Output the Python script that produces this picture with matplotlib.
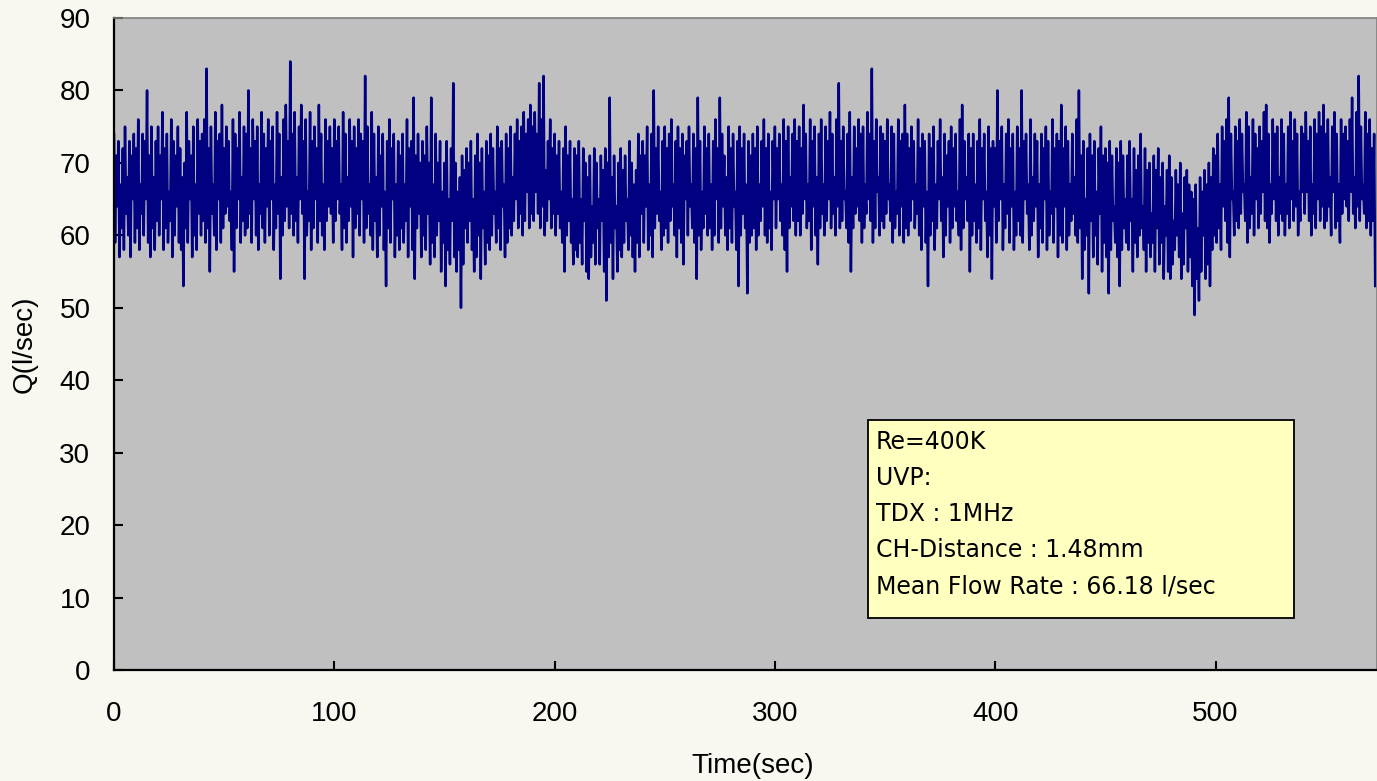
import numpy as np
import matplotlib.pyplot as plt
from matplotlib.patches import Rectangle

# flow rate Q (l/sec): one peak and one trough per second
q_hi_000 = [74, 71, 73, 67, 72, 75, 68, 73, 71, 74,
            72, 76, 67, 74, 73, 80, 71, 75, 68, 73,
            75, 71, 77, 72, 74, 66, 76, 73, 71, 75,
            72, 68, 70, 77, 73, 71, 75, 67, 76, 73,
            74, 76, 83, 72, 75, 67, 77, 73, 74, 78,
            72, 75, 73, 66, 76, 74, 72, 77, 68, 75,
            74, 80, 72, 76, 73, 75, 67, 77, 74, 72,
            76, 73, 75, 67, 77, 74, 68, 76, 78, 73,
            84, 74, 77, 68, 75, 78, 73, 76, 66, 77,
            73, 75, 72, 78, 74, 67, 76, 73, 75, 72]
q_hi_100 = [76, 73, 75, 67, 77, 74, 68, 76, 73, 75,
            72, 76, 74, 73, 82, 75, 67, 77, 74, 68,
            75, 71, 74, 66, 73, 76, 72, 74, 67, 73,
            71, 74, 67, 76, 72, 73, 79, 71, 74, 70,
            73, 71, 75, 70, 79, 67, 74, 70, 73, 66,
            70, 73, 65, 72, 81, 70, 66, 68, 71, 69,
            72, 70, 73, 65, 71, 74, 70, 72, 66, 73,
            71, 74, 72, 66, 75, 72, 73, 67, 74, 72,
            75, 68, 74, 76, 73, 75, 77, 74, 76, 78,
            75, 77, 74, 81, 76, 82, 69, 73, 76, 72]
q_hi_200 = [74, 71, 73, 66, 72, 75, 71, 73, 65, 72,
            71, 73, 65, 72, 70, 68, 71, 64, 72, 70,
            65, 71, 69, 72, 70, 79, 68, 71, 64, 70,
            72, 69, 71, 65, 73, 70, 67, 69, 74, 71,
            73, 71, 75, 67, 74, 80, 72, 75, 66, 73,
            75, 72, 74, 76, 67, 73, 75, 72, 74, 71,
            73, 75, 67, 74, 72, 79, 73, 66, 75, 72,
            74, 67, 73, 76, 72, 79, 74, 71, 68, 75,
            72, 74, 66, 73, 75, 72, 74, 67, 73, 71,
            74, 72, 75, 67, 73, 76, 72, 74, 66, 73]
q_hi_300 = [75, 72, 74, 67, 76, 73, 75, 68, 74, 76,
            73, 75, 72, 78, 74, 67, 76, 73, 75, 68,
            74, 76, 67, 75, 73, 77, 74, 68, 76, 81,
            73, 75, 66, 74, 77, 68, 75, 72, 76, 74,
            75, 67, 77, 74, 83, 73, 76, 68, 75, 74,
            73, 76, 67, 75, 74, 66, 76, 73, 74, 78,
            74, 72, 75, 73, 67, 76, 72, 74, 73, 66,
            74, 72, 75, 67, 73, 76, 68, 74, 71, 73,
            75, 72, 74, 66, 76, 78, 73, 68, 74, 72,
            74, 67, 73, 76, 72, 74, 66, 75, 72, 73]
q_hi_400 = [72, 80, 73, 75, 67, 74, 76, 72, 74, 66,
            75, 72, 80, 73, 74, 67, 76, 68, 74, 73,
            67, 74, 72, 75, 73, 66, 76, 72, 74, 73,
            78, 72, 75, 73, 67, 74, 68, 76, 80, 71,
            73, 65, 72, 74, 71, 73, 66, 72, 75, 71,
            72, 70, 73, 71, 64, 72, 70, 73, 71, 65,
            71, 73, 65, 72, 69, 71, 74, 64, 72, 69,
            70, 63, 71, 69, 72, 68, 70, 64, 69, 71,
            68, 62, 69, 67, 70, 63, 68, 69, 67, 66,
            65, 67, 61, 68, 66, 69, 67, 70, 68, 72]
q_hi_500 = [71, 74, 67, 75, 73, 76, 79, 74, 66, 75,
            73, 76, 74, 67, 77, 75, 68, 76, 74, 72,
            75, 73, 77, 78, 74, 67, 76, 74, 75, 68,
            76, 74, 67, 75, 77, 73, 76, 74, 66, 75,
            74, 77, 73, 75, 67, 76, 74, 77, 75, 78,
            74, 76, 68, 75, 77, 74, 67, 76, 74, 75,
            73, 76, 79, 68, 77, 82, 75, 67, 77, 74,
            76, 72, 74]

q_lo_000 = [59, 64, 57, 61, 58, 63, 60, 57, 65, 59,
            61, 58, 63, 60, 65, 59, 57, 61, 58, 62,
            60, 65, 58, 61, 59, 62, 57, 60, 64, 59,
            58, 53, 61, 59, 65, 57, 60, 58, 63, 60,
            62, 59, 61, 55, 63, 60, 58, 65, 59, 61,
            63, 64, 62, 58, 55, 61, 65, 59, 62, 60,
            61, 63, 59, 65, 60, 58, 63, 61, 59, 64,
            60, 65, 58, 61, 63, 54, 60, 62, 64, 61,
            63, 60, 62, 59, 65, 63, 54, 60, 62, 58,
            61, 65, 59, 62, 60, 58, 62, 64, 63, 59]
q_lo_100 = [62, 65, 63, 58, 61, 59, 62, 64, 57, 61,
            63, 60, 65, 59, 61, 63, 60, 58, 62, 57,
            60, 64, 58, 53, 61, 59, 65, 57, 60, 58,
            61, 59, 62, 57, 64, 58, 54, 61, 63, 57,
            60, 58, 63, 56, 59, 57, 60, 62, 55, 59,
            53, 58, 56, 62, 57, 55, 58, 50, 56, 61,
            59, 62, 58, 55, 57, 60, 54, 61, 56, 59,
            58, 60, 63, 59, 61, 58, 64, 57, 59, 61,
            60, 62, 65, 61, 63, 60, 62, 66, 61, 63,
            62, 66, 63, 61, 64, 60, 62, 65, 61, 63]
q_lo_200 = [60, 63, 61, 59, 55, 60, 62, 59, 56, 58,
            57, 59, 56, 62, 55, 54, 57, 59, 56, 61,
            56, 62, 55, 51, 57, 59, 54, 61, 55, 58,
            57, 59, 62, 58, 60, 57, 55, 59, 57, 63,
            59, 64, 58, 60, 57, 61, 63, 62, 58, 60,
            61, 59, 62, 64, 60, 57, 61, 59, 56, 65,
            60, 64, 61, 59, 54, 60, 58, 61, 63, 60,
            61, 58, 60, 65, 59, 61, 64, 60, 58, 61,
            59, 64, 58, 53, 60, 63, 61, 52, 59, 60,
            61, 58, 60, 62, 64, 60, 59, 61, 58, 65]
q_lo_300 = [61, 65, 62, 60, 58, 55, 61, 64, 62, 60,
            62, 60, 63, 65, 61, 62, 58, 64, 60, 56,
            61, 63, 60, 62, 65, 61, 63, 60, 64, 61,
            62, 65, 61, 59, 55, 61, 63, 64, 62, 59,
            61, 63, 65, 62, 59, 61, 66, 60, 62, 61,
            63, 65, 62, 59, 61, 63, 60, 64, 59, 61,
            60, 62, 65, 61, 63, 60, 58, 64, 59, 53,
            60, 62, 58, 61, 65, 62, 57, 60, 64, 59,
            61, 64, 62, 60, 58, 61, 65, 62, 55, 60,
            62, 59, 61, 58, 65, 62, 57, 60, 54, 64]
q_lo_400 = [59, 62, 65, 58, 61, 63, 59, 64, 58, 60,
            62, 60, 59, 65, 63, 58, 60, 62, 64, 57,
            61, 59, 65, 58, 60, 63, 59, 64, 57, 60,
            59, 64, 58, 60, 62, 63, 60, 59, 61, 54,
            58, 60, 52, 62, 57, 60, 56, 63, 55, 59,
            57, 52, 58, 62, 59, 57, 53, 58, 61, 59,
            58, 62, 55, 59, 57, 60, 61, 58, 55, 59,
            57, 59, 55, 61, 56, 59, 54, 60, 55, 54,
            56, 58, 60, 57, 54, 56, 61, 55, 57, 53,
            49, 54, 51, 55, 60, 54, 56, 53, 58, 60]
q_lo_500 = [59, 61, 58, 64, 62, 59, 57, 65, 60, 62,
            61, 63, 66, 62, 59, 61, 63, 60, 65, 61,
            63, 66, 62, 61, 59, 63, 65, 62, 60, 63,
            62, 60, 63, 61, 65, 62, 64, 60, 62, 66,
            63, 66, 62, 60, 63, 61, 65, 62, 64, 61,
            62, 64, 60, 66, 61, 62, 59, 63, 65, 64,
            62, 66, 63, 61, 64, 62, 65, 63, 61, 62,
            60, 62, 53]

info_lines = ['Re=400K', 'UVP:', 'TDX : 1MHz', 'CH-Distance : 1.48mm',
              'Mean Flow Rate : 66.18 l/sec']

q_hi = np.array(q_hi_000 + q_hi_100 + q_hi_200 + q_hi_300 + q_hi_400
                + q_hi_500, dtype=float)
q_lo = np.array(q_lo_000 + q_lo_100 + q_lo_200 + q_lo_300 + q_lo_400
                + q_lo_500, dtype=float)
n = len(q_hi)
t = np.empty(2 * n)
q = np.empty(2 * n)
t[0::2] = np.arange(n)
t[1::2] = np.arange(n) + 0.5
q[0::2] = q_hi
q[1::2] = q_lo

W, H = 1377, 781
plt.rcParams['font.family'] = ['Liberation Sans', 'DejaVu Sans']
fig = plt.figure(figsize=(W / 100, H / 100), dpi=100, facecolor='#F8F8F0')
ax = fig.add_axes([114 / W, 111 / H, 1263 / W, 652 / H])
ax.set_facecolor('#C0C0C0')

ax.plot(t, q, color='#000080', lw=1.8)

ax.set_xlim(0, 1263 / 2.203)
ax.set_ylim(0, 90)
ax.set_xticks(range(0, 501, 100))
ax.set_yticks(range(0, 91, 10))
ax.tick_params(direction='in', length=6.5, width=1.5, labelsize=20,
               colors='black')
ax.tick_params(axis='y', pad=17)
ax.tick_params(axis='x', pad=22)
for side in ['left', 'bottom']:
    ax.spines[side].set_linewidth(1.6)
    ax.spines[side].set_color('black')
for side in ['top', 'right']:
    ax.spines[side].set_linewidth(1.2)
    ax.spines[side].set_color('#808080')

fig.text(753 / W, 1 - 766 / H, 'Time(sec)', fontsize=20,
         ha='center', va='center')
fig.text(25 / W, 1 - 344 / H, 'Q(l/sec)', fontsize=20, rotation=90,
         ha='center', va='center')

# info box
x0, y0, x1, y1 = 868, 420, 1294, 618
fig.patches.append(Rectangle((x0 / W, 1 - y1 / H), (x1 - x0) / W,
                             (y1 - y0) / H, transform=fig.transFigure,
                             facecolor='#FFFFC0', edgecolor='black',
                             lw=1.3, zorder=5))
for i, line in enumerate(info_lines):
    fig.text(876 / W, 1 - (442 + 36 * i) / H, line, fontsize=17,
             family='DejaVu Sans', ha='left', va='center', zorder=6)

fig.savefig('out.png', dpi=100, facecolor=fig.get_facecolor())
